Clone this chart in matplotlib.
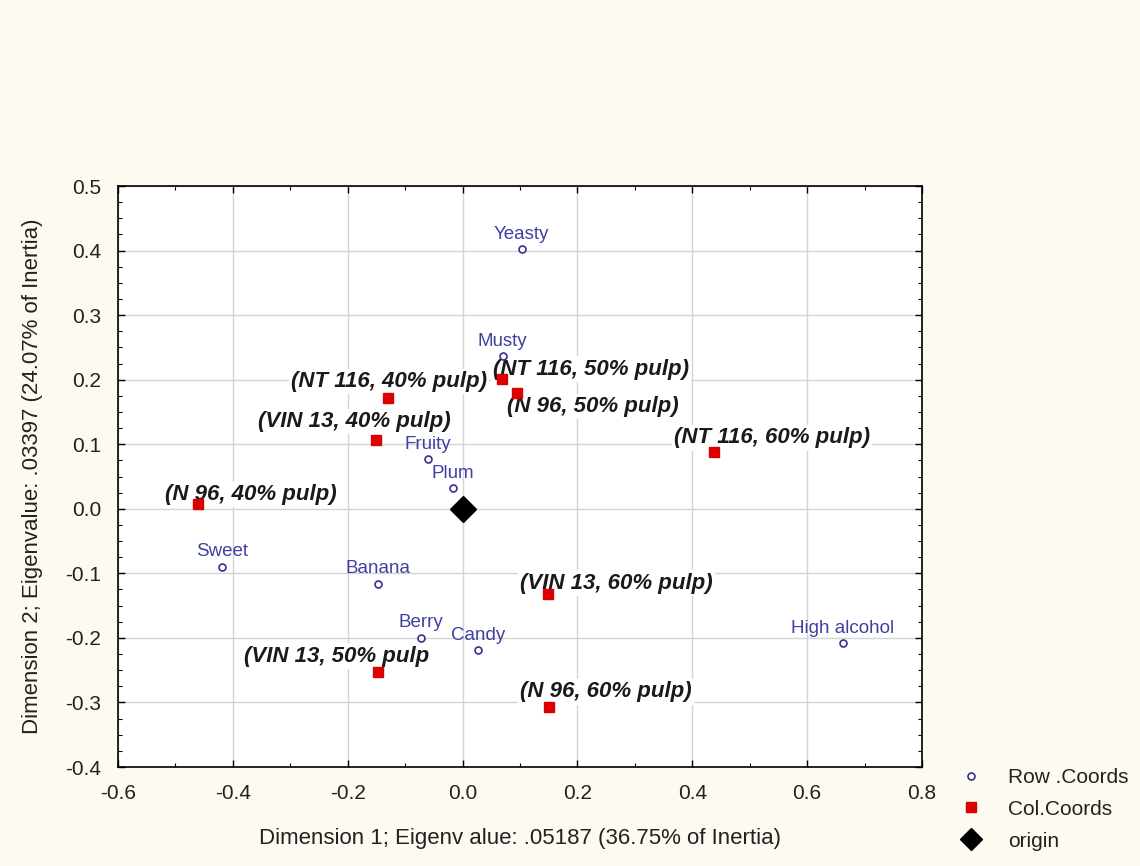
import matplotlib
matplotlib.use("Agg")
import matplotlib.pyplot as plt
from matplotlib.ticker import MultipleLocator
from matplotlib.lines import Line2D

plt.rcParams['font.family'] = ['Liberation Sans', 'DejaVu Sans']

# Row coordinates (attributes)
row_labels = ["Yeasty", "Musty", "Fruity", "Plum", "Sweet", "Banana", "Berry", "Candy", "High alcohol"]
row_x = [0.103, 0.070, -0.060, -0.017, -0.419, -0.147, -0.072, 0.027, 0.662]
row_y = [0.402, 0.236, 0.077, 0.032, -0.090, -0.116, -0.200, -0.219, -0.208]

# Column coordinates (treatments)
col_labels = ["(NT 116, 40% pulp)", "(VIN 13, 40% pulp)", "(N 96, 40% pulp)",
              "(NT 116, 50% pulp)", "(N 96, 50% pulp)", "(NT 116, 60% pulp)",
              "(VIN 13, 60% pulp)", "(VIN 13, 50% pulp", "(N 96, 60% pulp)"]
col_x = [-0.130, -0.151, -0.461, 0.069, 0.095, 0.438, 0.149, -0.147, 0.151]
col_y = [0.172, 0.107, 0.007, 0.201, 0.179, 0.088, -0.132, -0.253, -0.307]
# label offsets in pixels (dx, dy up-positive)
col_offsets = [(1, 16), (-22, 18), (53, 10), (89, 10), (76, -13), (58, 14),
               (68, 11), (-42, 16), (57, 15)]

origin_x = [0.0]
origin_y = [0.0]

xlabel = "Dimension 1; Eigenv alue: .05187 (36.75% of Inertia)"
ylabel = "Dimension 2; Eigenvalue: .03397 (24.07% of Inertia)"

bg = '#fdfaf1'
fig = plt.figure(figsize=(11.4, 8.66), dpi=100, facecolor=bg)
ax = fig.add_axes([0.1035, 0.1143, 0.7053, 0.6709])
ax.set_facecolor('white')

ax.set_xlim(-0.6, 0.8)
ax.set_ylim(-0.4, 0.5)
ax.xaxis.set_major_locator(MultipleLocator(0.2))
ax.xaxis.set_minor_locator(MultipleLocator(0.1))
ax.yaxis.set_major_locator(MultipleLocator(0.1))
ax.yaxis.set_minor_locator(MultipleLocator(0.025))
ax.xaxis.set_major_formatter(plt.FuncFormatter(lambda v, p: f"{v:.1f}"))
ax.yaxis.set_major_formatter(plt.FuncFormatter(lambda v, p: f"{v:.1f}"))
ax.tick_params(which='both', direction='in', top=True, right=True, colors='black',
               labelsize=15, labelcolor='#222222')
ax.tick_params(which='major', length=5, width=1, pad=12)
ax.tick_params(which='minor', length=3, width=0.8)
ax.grid(True, which='major', color='#d4d4d4', linewidth=1.0)
ax.set_axisbelow(True)
for s in ax.spines.values():
    s.set_color('black')
    s.set_linewidth(1.2)

ax.set_xlabel(xlabel, fontsize=16, color='#222222', labelpad=18)
ax.set_ylabel(ylabel, fontsize=16, color='#222222', labelpad=16)

row_color = '#33338f'
ax.plot(row_x, row_y, linestyle='none', marker='o', markersize=5, markerfacecolor='white',
        markeredgecolor=row_color, markeredgewidth=1.2, zorder=4)
for lab, x, y in zip(row_labels, row_x, row_y):
    ax.annotate(lab, (x, y), xytext=(0, 15), textcoords='offset pixels', ha='center', va='center',
                fontsize=13.5, color='#4040a0', zorder=5)

ax.plot(col_x, col_y, linestyle='none', marker='s', markersize=7.5, color='#dd0000', zorder=4)
for lab, x, y, (dx, dy) in zip(col_labels, col_x, col_y, col_offsets):
    ax.annotate(lab, (x, y), xytext=(dx, dy), textcoords='offset pixels', ha='center', va='center',
                fontsize=16, fontweight='bold', fontstyle='italic', color='#1a1a1a', zorder=3,
                bbox=dict(boxstyle='square,pad=0.1', facecolor='white', edgecolor='none'))

ax.plot(origin_x, origin_y, linestyle='none', marker='D', markersize=13, color='black', zorder=6)

handles = [
    Line2D([], [], linestyle='none', marker='o', markersize=5, markerfacecolor='white',
           markeredgecolor=row_color, markeredgewidth=1.2),
    Line2D([], [], linestyle='none', marker='s', markersize=7.5, color='#dd0000'),
    Line2D([], [], linestyle='none', marker='D', markersize=11, color='black'),
]
fig.legend(handles, ["Row .Coords", "Col.Coords", "origin"], loc='upper left',
           bbox_to_anchor=(0.826, 0.123), frameon=False, fontsize=15,
           handletextpad=0.8, labelspacing=0.62, labelcolor='#222222', borderaxespad=0)

fig.savefig('out.png', dpi=100, facecolor=bg)
